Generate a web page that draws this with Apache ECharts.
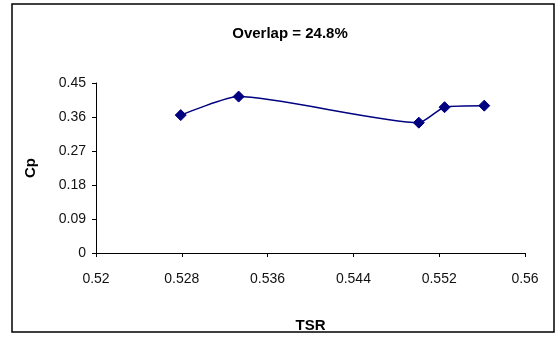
<!DOCTYPE html>
<html>
<head>
<meta charset="utf-8">
<script src="https://cdn.jsdelivr.net/npm/echarts@6/dist/echarts.min.js"></script>
<style>
html,body{margin:0;padding:0;background:#fff;}
#chart{width:557px;height:341px;}
</style>
</head>
<body>
<div id="chart"></div>
<script>
const tsr = [0.5279, 0.5333, 0.5501, 0.5525, 0.5562];
const cp = [0.365, 0.414, 0.345, 0.386, 0.390];
const xTicks = [0.52, 0.528, 0.536, 0.544, 0.552, 0.56];
const yTicks = [0, 0.09, 0.18, 0.27, 0.36, 0.45];
const titleText = 'Overlap = 24.8%';

const chart = echarts.init(document.getElementById('chart'), null, {renderer: 'canvas'});
const font = 'Arial, "Liberation Sans", sans-serif';
chart.setOption({
  animation: false,
  backgroundColor: '#fff',
  title: {
    text: titleText,
    left: 285, top: 21,
    textAlign: 'center',
    textStyle: {fontFamily: font, fontSize: 15, fontWeight: 'bold', color: '#000'}
  },
  graphic: [{
    type: 'rect',
    shape: {x: 12, y: 4, width: 542, height: 328},
    style: {fill: 'none', stroke: '#000', lineWidth: 1.5},
    z: 100
  }],
  grid: {left: 96, right: 32, top: 83, bottom: 88, containLabel: false},
  xAxis: {
    type: 'value',
    min: xTicks[0], max: xTicks[xTicks.length - 1], interval: 0.008,
    name: 'TSR', nameLocation: 'middle', nameGap: 65,
    nameTextStyle: {fontFamily: font, fontSize: 15, fontWeight: 'bold', color: '#000'},
    axisLine: {show: true, lineStyle: {color: '#000', width: 1}},
    axisTick: {show: true, length: 4, lineStyle: {color: '#000'}},
    splitLine: {show: false},
    axisLabel: {
      fontFamily: font, fontSize: 14, color: '#111', margin: 19,
      formatter: v => { const t = xTicks.find(k => Math.abs(k - v) < 1e-9); return t !== undefined ? String(t) : ''; }
    }
  },
  yAxis: {
    type: 'value',
    min: yTicks[0], max: yTicks[yTicks.length - 1], interval: 0.09,
    name: 'Cp', nameLocation: 'middle', nameGap: 58,
    nameTextStyle: {fontFamily: font, fontSize: 15, fontWeight: 'bold', color: '#000'},
    axisLine: {show: true, lineStyle: {color: '#000', width: 1}},
    axisTick: {show: true, length: 4, lineStyle: {color: '#000'}},
    splitLine: {show: false},
    axisLabel: {
      fontFamily: font, fontSize: 14, color: '#111', margin: 10,
      formatter: v => { const t = yTicks.find(k => Math.abs(k - v) < 1e-9); return t !== undefined ? String(t) : ''; }
    }
  },
  series: [{
    type: 'line',
    data: tsr.map((x, i) => [x, cp[i]]),
    smooth: 0.2,
    symbol: 'diamond',
    symbolSize: 11,
    showAllSymbol: true,
    lineStyle: {color: '#000080', width: 1.5},
    itemStyle: {color: '#000080', borderColor: '#000080'}
  }]
});
</script>
</body>
</html>
